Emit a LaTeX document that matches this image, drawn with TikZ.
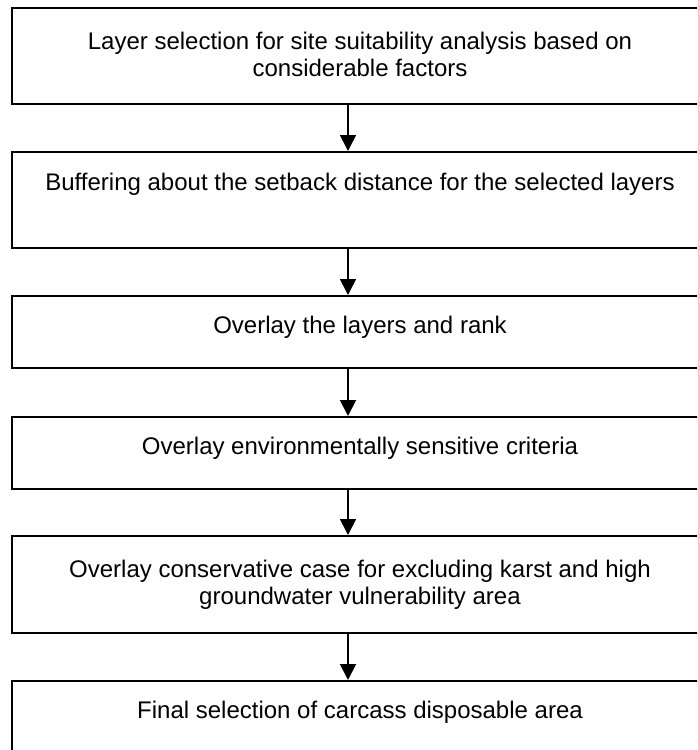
\documentclass[tikz,border=0pt]{standalone}
\usepackage{fontspec}
\setmainfont{Liberation Sans}
\usetikzlibrary{arrows.meta}
\begin{document}
\begin{tikzpicture}[x=1pt,y=-1pt,
  stepbox/.style={draw=black,line width=1.6pt,minimum width=698pt,inner sep=0pt,anchor=north west},
  steptext/.style={font=\fontsize{24}{26.5}\selectfont,align=center,anchor=base,inner sep=0pt},
  flow/.style={line width=1.8pt,-{Triangle[length=16pt,width=16pt]}}]
\useasboundingbox (0,0) rectangle (697,750);
\clip (0,0) rectangle (697,750);
\node[stepbox,minimum height=96pt] (b1) at (11,7) {};
\node[stepbox,minimum height=96pt] (b2) at (11,151) {};
\node[stepbox,minimum height=72pt] (b3) at (11,295) {};
\node[stepbox,minimum height=72pt] (b4) at (11,416) {};
\node[stepbox,minimum height=97pt] (b5) at (11,535) {};
\node[stepbox,minimum height=100pt] (b6) at (11,680) {};
\node[steptext] (t1) at (360,76) {Layer selection for site suitability analysis based on\\considerable factors};
\node[steptext] (t2) at (360,190) {Buffering about the setback distance for the selected layers};
\node[steptext] (t3) at (360,333) {Overlay the layers and rank};
\node[steptext] (t4) at (360,454) {Overlay environmentally sensitive criteria};
\node[steptext] (t5) at (360,604) {Overlay conservative case for excluding karst and high\\groundwater vulnerability area};
\node[steptext] (t6) at (360,718) {Final selection of carcass disposable area};
\coordinate (ax) at (348,0);
\draw[flow] (b1.south -| ax) -- (b2.north -| ax);
\draw[flow] (b2.south -| ax) -- (b3.north -| ax);
\draw[flow] (b3.south -| ax) -- (b4.north -| ax);
\draw[flow] (b4.south -| ax) -- (b5.north -| ax);
\draw[flow] (b5.south -| ax) -- (b6.north -| ax);
\end{tikzpicture}
\end{document}
